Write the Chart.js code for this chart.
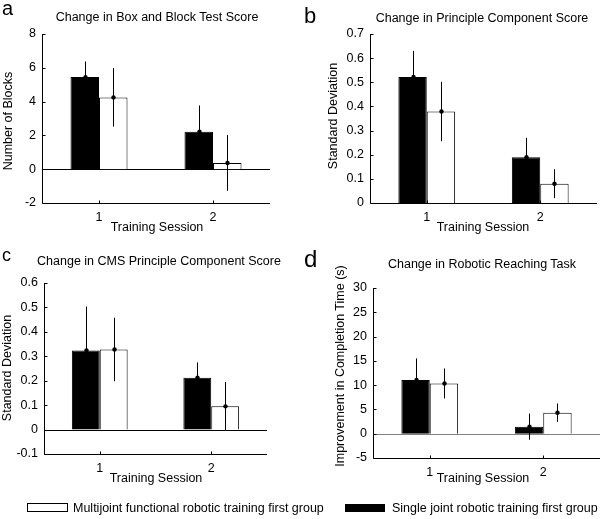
<!DOCTYPE html>
<html>
<head>
<meta charset="utf-8">
<script src="https://cdn.jsdelivr.net/npm/chart.js@4"></script>
<style>
  body { margin: 0; background: #fff; width: 600px; height: 519px; position: relative; overflow: hidden;
         font-family: 'Liberation Sans', Arial, sans-serif; color: #000; }
  canvas { position: absolute; }
  .t { position: absolute; white-space: nowrap; line-height: 1; }
  .c { transform: translateX(-50%); }
  .r { transform: translate(-50%, -50%) rotate(-90deg); }
  .box { position: absolute; box-sizing: border-box; border: 1px solid #000; }
</style>
</head>
<body>
<canvas id="chartA" width="300" height="240" style="left:0;top:0"></canvas>
<canvas id="chartB" width="300" height="240" style="left:300px;top:0"></canvas>
<canvas id="chartC" width="300" height="245" style="left:0;top:240px"></canvas>
<canvas id="chartD" width="300" height="245" style="left:300px;top:240px"></canvas>

<!-- panel letters -->
<div class="t" style="left:2px;top:-2px;font-size:20px">a</div>
<div class="t" style="left:304px;top:5px;font-size:22px">b</div>
<div class="t" style="left:2px;top:246px;font-size:18px">c</div>
<div class="t" style="left:304px;top:247px;font-size:24px">d</div>

<!-- titles -->
<div class="t c" style="left:157px;top:11px;font-size:12.5px">Change in Box and Block Test Score</div>
<div class="t c" style="left:482px;top:12px;font-size:12.5px">Change in Principle Component Score</div>
<div class="t c" style="left:159px;top:255px;font-size:12.5px">Change in CMS Principle Component Score</div>
<div class="t c" style="left:482px;top:258px;font-size:12.5px">Change in Robotic Reaching Task</div>

<!-- axis titles -->
<div class="t c" style="left:157px;top:221px;font-size:12.5px">Training Session</div>
<div class="t c" style="left:483px;top:221px;font-size:12.5px">Training Session</div>
<div class="t c" style="left:156px;top:472px;font-size:12.5px">Training Session</div>
<div class="t c" style="left:483px;top:472px;font-size:12.5px">Training Session</div>
<div class="t r" style="left:8px;top:121px;font-size:12.5px">Number of Blocks</div>
<div class="t r" style="left:333px;top:116px;font-size:12.5px">Standard Deviation</div>
<div class="t r" style="left:7px;top:368px;font-size:12.5px">Standard Deviation</div>
<div class="t r" style="left:340px;top:366px;font-size:12.5px">Improvement in Completion Time (s)</div>

<!-- legend -->
<div class="box" style="left:27px;top:503px;width:41px;height:9px;background:#fff"></div>
<div class="t" style="left:73px;top:502px;font-size:12.5px">Multijoint functional robotic training first group</div>
<div class="box" style="left:345px;top:504px;width:40px;height:8px;background:#000"></div>
<div class="t" style="left:392px;top:502px;font-size:12.5px">Single joint robotic training first group</div>

<script>
const sessions = ['1', '2'];

// a: Box and Block Test (number of blocks)
const singleA = [5.45, 2.22];
const singleAErr = [0.92, 1.55];
const multiA = [4.25, 0.37];
const multiAErr = [1.73, 1.65];

// b: principle component score
const singleB = [0.522, 0.19];
const singleBErr = [0.108, 0.08];
const multiB = [0.379, 0.08];
const multiBErr = [0.123, 0.06];

// c: CMS principle component score
const singleC = [0.324, 0.212];
const singleCErr = [0.18, 0.063];
const multiC = [0.328, 0.095];
const multiCErr = [0.13, 0.1];

// d: robotic reaching task (s)
const singleD = [11.06, 1.45];
const singleDErr = [4.45, 2.69];
const multiD = [10.35, 4.33];
const multiDErr = [3.08, 1.89];

const tickFont = { family: "'Liberation Sans', Arial, sans-serif", size: 12.5 };

// matlab look: zero line, error bars with dots, axis lines with inward ticks
const matlabAxes = {
  id: 'matlabAxes',
  beforeDatasetsDraw(chart, args, opts) {
    if (!opts.zeroColor) return;
    const { ctx, chartArea: a, scales: { y } } = chart;
    const y0 = Math.round(y.getPixelForValue(0)) + 0.5;
    ctx.save();
    ctx.strokeStyle = opts.zeroColor;
    ctx.lineWidth = 1;
    ctx.beginPath(); ctx.moveTo(a.left, y0); ctx.lineTo(a.right, y0); ctx.stroke();
    ctx.restore();
  },
  afterDatasetsDraw(chart) {
    const { ctx, scales: { y } } = chart;
    ctx.save();
    ctx.strokeStyle = '#000';
    ctx.fillStyle = '#000';
    ctx.lineWidth = 1;
    chart.data.datasets.forEach((ds, i) => {
      chart.getDatasetMeta(i).data.forEach((bar, j) => {
        const v = ds.data[j], e = ds.errors[j];
        const x = Math.round(bar.x) + 0.5;
        ctx.beginPath();
        ctx.moveTo(x, y.getPixelForValue(v - e));
        ctx.lineTo(x, y.getPixelForValue(v + e));
        ctx.stroke();
        ctx.beginPath();
        ctx.arc(x, y.getPixelForValue(v), 2.2, 0, Math.PI * 2);
        ctx.fill();
      });
    });
    ctx.restore();
  },
  afterDraw(chart) {
    const { ctx, chartArea: a, scales: { x, y } } = chart;
    const lx = Math.round(a.left) + 0.5, by = Math.round(a.bottom) + 0.5;
    ctx.save();
    ctx.strokeStyle = '#000';
    ctx.lineWidth = 1;
    ctx.beginPath();
    ctx.moveTo(lx, a.top); ctx.lineTo(lx, by); ctx.lineTo(a.right, by);
    y.ticks.forEach(t => {
      const py = Math.round(y.getPixelForValue(t.value)) + 0.5;
      ctx.moveTo(lx, py); ctx.lineTo(lx + 3, py);
    });
    sessions.forEach((s, i) => {
      const px = Math.round(x.getPixelForValue(i)) + 0.5;
      ctx.moveTo(px, by); ctx.lineTo(px, by - 3);
    });
    ctx.stroke();
    ctx.restore();
  }
};

function makeChart(id, single, singleErr, multi, multiErr, cfg) {
  return new Chart(document.getElementById(id), {
    type: 'bar',
    data: {
      labels: sessions,
      datasets: [
        { label: 'Single joint robotic training first group', data: single, errors: singleErr,
          backgroundColor: '#000', borderColor: '#000', borderWidth: 1 },
        { label: 'Multijoint functional robotic training first group', data: multi, errors: multiErr,
          backgroundColor: '#fff', borderColor: '#000', borderWidth: 1 }
      ]
    },
    options: {
      responsive: false,
      animation: false,
      layout: { padding: { left: 0, top: cfg.padTop, right: cfg.padRight, bottom: 0 } },
      datasets: { bar: { categoryPercentage: 0.5, barPercentage: 1 } },
      plugins: {
        legend: { display: false },
        tooltip: { enabled: false },
        matlabAxes: { zeroColor: cfg.zero }
      },
      scales: {
        x: {
          grid: { display: false, drawTicks: false },
          border: { display: false },
          ticks: { color: '#000', font: tickFont, padding: 7 },
          afterFit: s => { s.height = cfg.xh; }
        },
        y: {
          min: cfg.min, max: cfg.max,
          grid: { display: false, drawTicks: false },
          border: { display: false },
          ticks: { stepSize: cfg.step, color: '#000', font: tickFont, padding: 6,
                   callback: v => String(+v.toFixed(cfg.dec)) },
          afterFit: s => { s.width = cfg.yw; }
        }
      }
    },
    plugins: [matlabAxes]
  });
}

makeChart('chartA', singleA, singleAErr, multiA, multiAErr,
  { min: -2, max: 8, step: 2, dec: 0, padTop: 34, padRight: 30, yw: 42, xh: 37, zero: '#000' });
makeChart('chartB', singleB, singleBErr, multiB, multiBErr,
  { min: 0, max: 0.7, step: 0.1, dec: 1, padTop: 34, padRight: 3, yw: 70, xh: 37, zero: null });
makeChart('chartC', singleC, singleCErr, multiC, multiCErr,
  { min: -0.1, max: 0.6, step: 0.1, dec: 1, padTop: 43, padRight: 33, yw: 44, xh: 31, zero: '#000' });
makeChart('chartD', singleD, singleDErr, multiD, multiDErr,
  { min: -5, max: 30, step: 5, dec: 0, padTop: 48, padRight: 0, yw: 73, xh: 27, zero: '#808080' });
</script>
</body>
</html>
